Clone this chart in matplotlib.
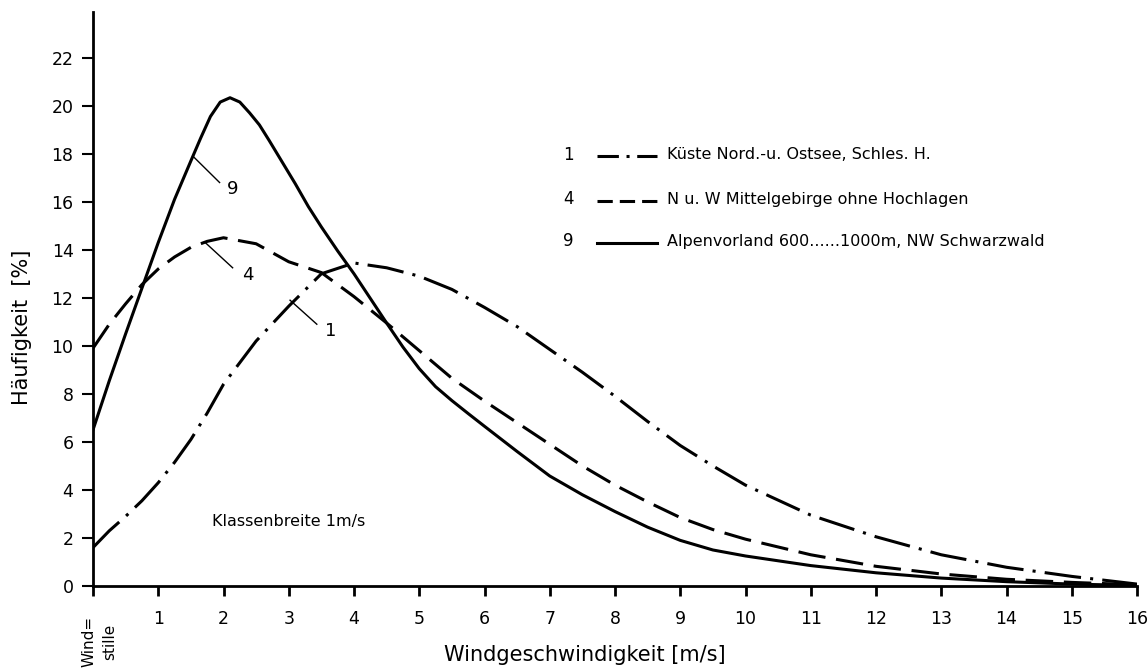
import numpy as np
import matplotlib
matplotlib.use("Agg")
import matplotlib.pyplot as plt

plt.rcParams['font.family'] = ['DejaVu Sans']

# Curve 1: Küste (dash-dot)
x1 = [0, 0.25, 0.5, 0.75, 1, 1.25, 1.5, 1.75, 2, 2.5, 3, 3.5, 4, 4.5, 5, 5.5, 6, 6.5,
      7, 7.5, 8, 8.5, 9, 9.5, 10, 11, 12, 13, 14, 15, 16]
y1 = [1.6, 2.3, 2.9, 3.55, 4.3, 5.15, 6.1, 7.2, 8.4, 10.2, 11.65, 13.0, 13.45, 13.25,
      12.9, 12.35, 11.6, 10.8, 9.85, 8.9, 7.9, 6.85, 5.85, 5.0, 4.2, 2.95, 2.05, 1.3,
      0.78, 0.4, 0.08]

# Curve 4: Mittelgebirge (dashed)
x4 = [0, 0.25, 0.5, 0.75, 1, 1.25, 1.5, 1.75, 2, 2.5, 3, 3.5, 4, 4.5, 5, 5.5, 6,
      6.5, 7, 7.5, 8, 8.5, 9, 9.5, 10, 11, 12, 13, 14, 15, 16]
y4 = [9.9, 10.9, 11.75, 12.55, 13.2, 13.7, 14.1, 14.35, 14.5, 14.25, 13.5, 13.05, 12.05,
      10.95, 9.8, 8.65, 7.7, 6.8, 5.9, 5.0, 4.2, 3.5, 2.85, 2.35, 1.95, 1.3, 0.82,
      0.5, 0.28, 0.15, 0.05]

# Curve 9: Alpenvorland (solid)
x9 = [0, 0.25, 0.5, 0.75, 1, 1.25, 1.5, 1.65, 1.8, 1.95, 2.1, 2.25, 2.4, 2.55, 2.7,
      2.9, 3.1, 3.3, 3.5, 3.75, 4, 4.5, 4.75, 5, 5.25, 5.5, 5.75, 6, 6.5, 7, 7.5, 8,
      8.5, 9, 9.5, 10, 11, 12, 13, 14, 15, 16]
y9 = [6.5, 8.55, 10.5, 12.4, 14.3, 16.1, 17.7, 18.65, 19.55, 20.15, 20.33, 20.15,
      19.7, 19.2, 18.55, 17.65, 16.75, 15.8, 14.95, 13.95, 13.0, 10.95, 9.95, 9.05,
      8.3, 7.72, 7.18, 6.65, 5.6, 4.58, 3.8, 3.1, 2.45, 1.9, 1.5, 1.25, 0.85, 0.55,
      0.33, 0.18, 0.08, 0.02]

curve_ids = ['1', '4', '9']
curve_labels = ['Küste Nord.-u. Ostsee, Schles. H.',
                'N u. W Mittelgebirge ohne Hochlagen',
                'Alpenvorland 600......1000m, NW Schwarzwald']
dash_1 = (0, (12, 3, 1, 3))
dash_4 = (0, (9, 3.5))
legend_styles = [(0, (7, 2.5, 1, 2.5)), (0, (5, 2.3)), '-']

x_ticks = list(range(0, 17))
y_ticks = list(range(0, 23, 2))

fig = plt.figure(figsize=(11.48, 6.70), dpi=100)
ax = fig.add_axes([93 / 1148, 84 / 670, (1137 - 93) / 1148, (586 - 12) / 670])

ax.plot(x1, y1, color='black', lw=2.2, linestyle=dash_1)
ax.plot(x4, y4, color='black', lw=2.2, linestyle=dash_4)
ax.plot(x9, y9, color='black', lw=2.2, solid_joinstyle='round')

ax.set_xlim(0, 16)
ax.set_ylim(0, 23.9)
for s in ['top', 'right']:
    ax.spines[s].set_visible(False)
for s in ['left', 'bottom']:
    ax.spines[s].set_linewidth(2)

ax.set_xticks(x_ticks)
ax.set_xticklabels([''] + [str(v) for v in x_ticks[1:]], fontsize=12.5)
ax.set_yticks(y_ticks)
ax.set_yticklabels([str(v) for v in y_ticks], fontsize=12.5)
ax.tick_params(axis='x', direction='out', length=7, width=2, pad=10)
ax.tick_params(axis='y', direction='out', length=8, width=1.5, pad=6)

# "Windstille" label at x=0
ax.text(0.1, -1.25, 'Wind=\nstille', rotation=90, ha='center', va='top',
        fontsize=11, linespacing=1.5)

# curve annotations
ax.plot([1.53, 1.94], [17.9, 16.8], color='black', lw=1)
ax.text(2.05, 16.55, '9', fontsize=13, va='center')
ax.plot([1.72, 2.14], [14.3, 13.25], color='black', lw=1)
ax.text(2.28, 12.95, '4', fontsize=13, va='center')
ax.plot([3.02, 3.43], [11.9, 10.9], color='black', lw=1)
ax.text(3.55, 10.6, '1', fontsize=13, va='center')

ax.text(1.82, 2.67, 'Klassenbreite 1m/s', fontsize=11.5, va='center')

# legend
leg_y = [17.95, 16.1, 14.35]
for cid, lab, st, yy in zip(curve_ids, curve_labels, legend_styles, leg_y):
    ax.text(7.29, yy, cid, fontsize=12, ha='center', va='center')
    ax.plot([7.73, 8.64], [yy - 0.05, yy - 0.05], color='black', lw=2.2, linestyle=st)
    ax.text(8.8, yy, lab, fontsize=11.5, va='center')

fig.text(585 / 1148, 1 - 655 / 670, 'Windgeschwindigkeit [m/s]', fontsize=15,
         ha='center', va='center')
fig.text(22 / 1148, 1 - 327 / 670, 'Häufigkeit  [%]', fontsize=15, rotation=90,
         ha='center', va='center')

fig.savefig('out.png', dpi=100)
